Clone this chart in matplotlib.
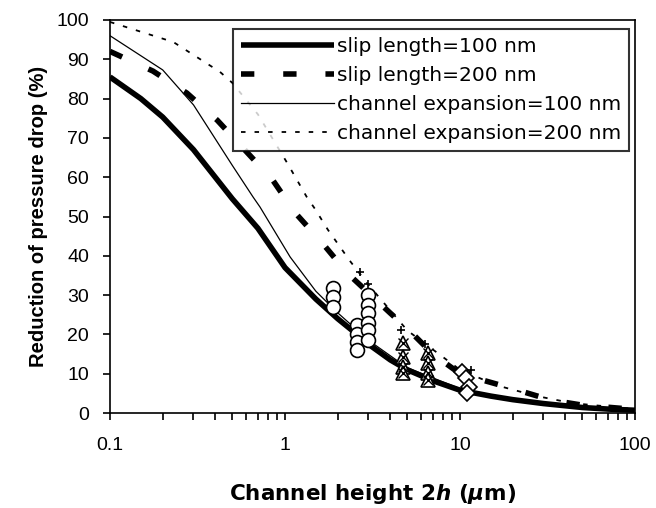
import numpy as np
import matplotlib
matplotlib.use("Agg")
import matplotlib.pyplot as plt

plt.rcParams['font.family'] = ['Liberation Sans', 'DejaVu Sans']
plt.rcParams['mathtext.fontset'] = 'custom'
plt.rcParams['mathtext.it'] = 'DejaVu Sans:italic:bold'
plt.rcParams['mathtext.rm'] = 'DejaVu Sans:bold'

# model curves
slip100_x = [0.1, 0.15, 0.2, 0.3, 0.5, 0.7, 1, 1.5, 2, 2.5, 3, 4, 5, 7, 10, 15, 20, 30, 50, 70, 100]
slip100_y = [85.5, 80, 75.3, 67, 54.5, 47, 37, 29, 24, 20.5, 17.5, 13.5, 11, 8.2, 5.8, 4.3, 3.4, 2.4, 1.4, 1.0, 0.7]

slip200_x = [0.1, 0.176, 0.275, 0.41, 0.85, 1.14, 1.63, 2.27, 4, 5, 7, 10, 19.3, 33, 50, 100]
slip200_y = [92, 87, 81.4, 74.5, 59.3, 51, 43.3, 35.6, 25.4, 21.5, 15, 10, 6.4, 3.3, 2.0, 0.9]

exp100_x = [0.1, 0.2, 0.3, 0.5, 0.656, 0.72, 1.07, 1.5, 2, 3, 5, 10, 20, 50, 100]
exp100_y = [96, 87.3, 78.4, 63, 55, 52.4, 39.7, 31, 25.5, 18.5, 11.5, 6.2, 3.5, 1.5, 0.8]

exp200_x = [0.1, 0.23, 0.425, 0.5, 0.7, 1.03, 1.33, 1.48, 1.76, 2.35, 2.95, 5, 10, 16.3, 27.5, 44, 100]
exp200_y = [99.5, 94.4, 86.8, 84, 76, 63.6, 55, 52, 46.6, 38.7, 33, 21, 11, 7, 4.3, 2.5, 1.0]

# experimental points
circ_x = [1.88, 1.88, 1.88, 2.58, 2.58, 2.58, 2.58, 2.97, 2.97, 2.97, 2.97, 2.97, 2.97]
circ_y = [31.8, 29.5, 27, 22.5, 20, 18, 16, 30, 27.5, 25.5, 23, 21, 18.6]

tri_x = [4.72, 4.72, 4.72, 4.72, 6.56, 6.56, 6.56, 6.56]
tri_y = [17.8, 14.2, 11.7, 10.2, 15.3, 12.7, 10.2, 8.5]

dia_x = [10.2, 10.8, 11.3, 11.0]
dia_y = [10.5, 9, 6.5, 5]

plus_x = [2.7, 3.0, 4.6, 6.3, 11.5]
plus_y = [36, 32.8, 21, 17.5, 11]

fig = plt.figure(figsize=(6.56, 5.08), dpi=100)
ax = fig.add_axes([110/656, 1 - 413/508, 525/656, 393/508])

ax.plot(slip100_x, slip100_y, color='black', lw=4, solid_capstyle='butt', label='slip length=100 nm')
ax.plot(slip200_x, slip200_y, color='black', lw=4, dashes=(2.4, 5.2), label='slip length=200 nm')
ax.plot(exp100_x, exp100_y, color='black', lw=0.9, label='channel expansion=100 nm')
ax.plot(exp200_x, exp200_y, color='black', lw=1.3, dashes=(2.5, 5), label='channel expansion=200 nm')

ax.plot(circ_x, circ_y, 'o', ms=10, mfc='white', mec='black', mew=1.2, ls='none')
ax.plot(tri_x, tri_y, '^', ms=10, mfc='white', mec='black', mew=1.2, ls='none')
ax.plot(tri_x, tri_y, 'x', ms=7, color='black', mew=1.0, ls='none')
ax.plot(dia_x, dia_y, 'D', ms=8, mfc='white', mec='black', mew=1.2, ls='none')
ax.plot(plus_x, plus_y, '+', ms=6, color='black', mew=1.2, ls='none')

ax.set_xscale('log')
ax.set_xlim(0.1, 100)
ax.set_ylim(0, 100)
ax.set_yticks(np.arange(0, 101, 10))
ax.set_xticks([0.1, 1, 10, 100])
ax.set_xticklabels(['0.1', '1', '10', '100'])
ax.tick_params(which='both', direction='out', length=5, width=1.2, labelsize=14)
ax.tick_params(axis='x', pad=12)
ax.tick_params(axis='y', pad=10)
for s in ax.spines.values():
    s.set_linewidth(1.2)

ax.set_xlabel('Channel height 2$h$ ($\\mu$m)', fontsize=15.5, fontweight='bold',
              family=['DejaVu Sans'])
ax.xaxis.set_label_coords(0.5, -(494 - 413) / 393)
ax.xaxis.label.set_va('center')
ax.set_ylabel('Reduction of pressure drop (%)', fontsize=14.5, fontweight='bold')
ax.yaxis.set_label_coords(-(110 - 39) / 525, 0.5)
ax.yaxis.label.set_va('center')

leg = ax.legend(loc='upper right', bbox_to_anchor=(1 - 6/525, 1 - 9/393),
                prop={'family': 'DejaVu Sans', 'size': 14.5},
                frameon=True, fancybox=False, edgecolor='black', handlelength=4.6,
                handletextpad=0.15, labelspacing=0.5, borderpad=0.4, borderaxespad=0)
leg.get_frame().set_linewidth(1.5)

fig.savefig('out.png', dpi=100)
